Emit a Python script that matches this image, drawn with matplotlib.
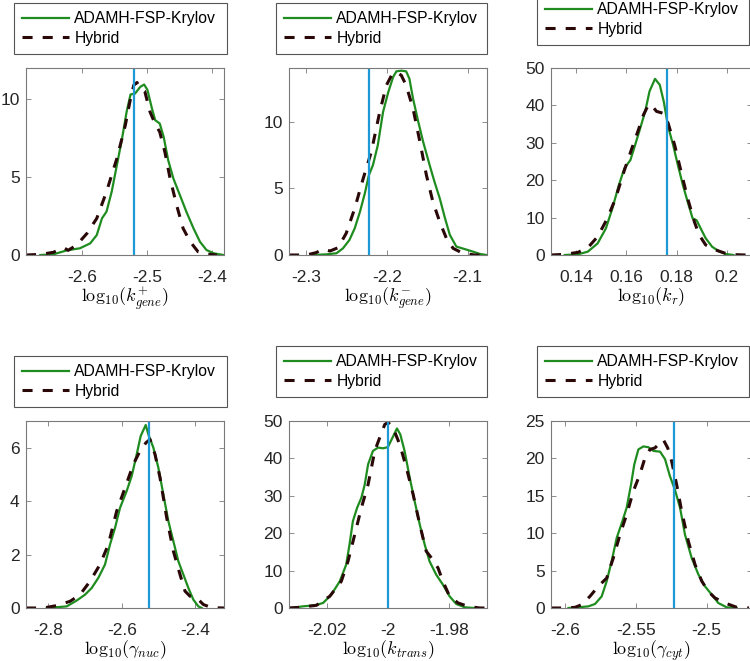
import matplotlib
matplotlib.use("Agg")
import matplotlib.pyplot as plt
from matplotlib.ticker import FormatStrFormatter

plt.rcParams['font.family'] = ['Liberation Sans', 'DejaVu Sans']
plt.rcParams['mathtext.fontset'] = 'cm'
plt.rcParams['axes.unicode_minus'] = False

GREEN = '#1f8c1f'
DARK = '#2a0808'
BLUE = '#1d9ad6'

# ---- k_gene^+ ----
kon_x_fsp = [-2.665, -2.645, -2.624, -2.604, -2.588, -2.578, -2.570, -2.563, -2.555, -2.547,
             -2.539, -2.532, -2.526, -2.519, -2.511, -2.505, -2.500, -2.493, -2.488, -2.481,
             -2.475, -2.468, -2.460, -2.450, -2.440, -2.429, -2.419, -2.409, -2.398, -2.383]
kon_y_fsp = [0, 0.04, 0.3, 0.43, 0.75, 1.28, 2.35, 2.78, 4.06, 5.77,
             7.48, 9.19, 10.3, 10.36, 10.79, 10.94, 10.6, 9.4, 8.65, 8.44,
             7.59, 6.09, 4.91, 3.85, 2.78, 1.71, 0.85, 0.32, 0.11, 0]
kon_x_hyb = [-2.687, -2.665, -2.645, -2.629, -2.622, -2.609, -2.593, -2.578, -2.563, -2.547,
             -2.534, -2.527, -2.521, -2.516, -2.511, -2.504, -2.496, -2.488, -2.481, -2.473,
             -2.465, -2.455, -2.445, -2.434, -2.422, -2.409, -2.393]
kon_y_hyb = [0, 0.04, 0.17, 0.47, 0.3, 0.64, 1.39, 2.35, 4.06, 6.2,
             8.33, 9.83, 10.9, 11.07, 10.7, 10.5, 9.19, 8.4, 7.9, 6.6,
             4.9, 3.2, 1.71, 0.85, 0.21, 0.06, 0]

# ---- k_gene^- ----
koff_x_fsp = [-2.291, -2.2745, -2.262, -2.254, -2.246, -2.2395, -2.233, -2.227, -2.222, -2.217,
              -2.211, -2.2045, -2.198, -2.192, -2.188, -2.182, -2.176, -2.172, -2.1675, -2.161,
              -2.155, -2.147, -2.141, -2.1345, -2.128, -2.122, -2.114, -2.104, -2.0934, -2.085, -2.077]
koff_y_fsp = [0, 0.05, 0.13, 0.5, 1.13, 2.0, 3.25, 4.63, 6.0, 6.75,
              8.25, 10.75, 12.25, 13.38, 13.8, 13.85, 13.8, 13.25, 11.75, 10.0,
              8.5, 6.75, 5.5, 4.25, 2.75, 1.5, 0.63, 0.45, 0.25, 0.08, 0]
koff_x_hyb = [-2.3206, -2.299, -2.287, -2.2786, -2.270, -2.260, -2.250, -2.2395, -2.229, -2.219,
              -2.2086, -2.2004, -2.194, -2.188, -2.182, -2.176, -2.1675, -2.159, -2.151, -2.143,
              -2.1346, -2.1263, -2.118, -2.106, -2.0914, -2.077]
koff_y_hyb = [0, 0, 0.18, 0.45, 0.3, 0.55, 1.63, 3.5, 5.75, 7.75,
              10.75, 12.75, 13.5, 13.75, 13.5, 12.75, 11.0, 8.5, 6.0, 4.0,
              2.5, 1.25, 0.5, 0.13, 0, 0]

# ---- k_r ----
kr_x_fsp = [0.1354, 0.1407, 0.1446, 0.1485, 0.1518, 0.1544, 0.1570, 0.1592, 0.1616, 0.1635,
            0.1655, 0.1675, 0.1692, 0.1714, 0.1733, 0.1749, 0.1766, 0.1786, 0.1805, 0.1825,
            0.1844, 0.1864, 0.1880, 0.1897, 0.1916, 0.1942, 0.1969, 0.1995, 0.2027]
kr_y_fsp = [0, 0.18, 0.9, 3.1, 7.1, 12.5, 18.75, 23.2, 25.4, 29.5,
            33.9, 38.4, 43.75, 47.1, 45.5, 41.0, 34.4, 29.5, 24.1, 18.75,
            14.3, 9.8, 9.3, 7.0, 4.5, 2.2, 1.0, 0.27, 0]
kr_x_hyb = [0.1299, 0.1354, 0.1407, 0.1446, 0.1485, 0.1524, 0.1557, 0.1590, 0.1622, 0.1648,
            0.1668, 0.1688, 0.1701, 0.1720, 0.1746, 0.1766, 0.1792, 0.1818, 0.1844, 0.1871,
            0.1890, 0.1916, 0.1956, 0.1995, 0.2034, 0.2076, 0.21]
kr_y_hyb = [0, 0.18, 0.71, 1.96, 4.9, 9.8, 15.2, 22.3, 28.6, 33.5,
            37.5, 40.2, 40.0, 38.4, 37.9, 35.3, 29.5, 22.3, 15.2, 8.9,
            5.4, 2.7, 1.34, 0.45, 0.09, 0, 0]

# ---- gamma_nuc ----
gnuc_x_fsp = [-2.8045, -2.7773, -2.750, -2.7227, -2.700, -2.6818, -2.6636, -2.6455, -2.6318, -2.6182,
              -2.6045, -2.5864, -2.5727, -2.5591, -2.5482, -2.5345, -2.5273, -2.5136, -2.500, -2.4864,
              -2.4727, -2.4591, -2.4455, -2.4318, -2.4182, -2.4045, -2.3909, -2.3818]
gnuc_y_fsp = [0, 0.03, 0.06, 0.28, 0.5, 0.75, 1.13, 1.63, 2.38, 3.0,
              3.75, 4.38, 4.94, 5.75, 6.44, 6.85, 6.5, 6.0, 5.25, 4.25,
              3.25, 2.5, 1.75, 1.25, 0.75, 0.31, 0.06, 0]
gnuc_x_hyb = [-2.861, -2.8136, -2.7773, -2.7409, -2.7136, -2.6864, -2.6591, -2.6364, -2.6136, -2.5909,
              -2.5682, -2.55, -2.5336, -2.5227, -2.5091, -2.4955, -2.4773, -2.4591, -2.4409, -2.4273,
              -2.4136, -2.3955, -2.3773, -2.3545, -2.3209]
gnuc_y_hyb = [0, 0, 0.09, 0.25, 0.5, 1.0, 1.63, 2.38, 3.63, 4.5,
              5.38, 5.88, 6.19, 6.31, 5.75, 4.88, 3.38, 2.13, 1.25, 0.63,
              0.44, 0.38, 0.13, 0.01, 0]

# ---- k_trans ----
ktr_x_fsp = [-2.0326, -2.0302, -2.028, -2.0242, -2.0214, -2.0187, -2.0159, -2.0138, -2.0127, -2.0116,
             -2.0102, -2.0088, -2.0077, -2.0066, -2.005, -2.0033, -2.0017, -2.0001, -1.9986, -1.9971,
             -1.996, -1.9946, -1.9929, -1.9913, -1.9896, -1.988, -1.9864, -1.9842, -1.982, -1.9798,
             -1.9776, -1.9748, -1.9716]
ktr_y_fsp = [0, 0.18, 0.45, 0.71, 1.34, 3.57, 7.14, 11.6, 16.96, 23.2,
             26.8, 29.5, 33.0, 38.4, 42.0, 42.9, 42.7, 43.0, 45.5, 48.0,
             46.4, 42.0, 34.8, 28.6, 22.3, 17.0, 12.5, 8.9, 6.25, 3.13,
             1.07, 0.18, 0]
ktr_x_hyb = [-2.0326, -2.0291, -2.0236, -2.0192, -2.0154, -2.0132, -2.011, -2.0088, -2.0066, -2.0044,
             -2.0028, -2.0011, -2.0, -1.9984, -1.9962, -1.994, -1.9918, -1.9896, -1.9875, -1.9853,
             -1.9836, -1.982, -1.9798, -1.977, -1.9738, -1.9699, -1.9675]
ktr_y_hyb = [0, 0.18, 0.71, 3.13, 7.14, 12.5, 19.6, 26.8, 33.0, 42.0,
             45.5, 49.1, 49.6, 48.2, 43.75, 37.5, 30.4, 22.3, 15.2, 12.9,
             10.7, 7.14, 3.13, 1.34, 0.45, 0, 0]

# ---- gamma_cyt ----
gcyt_x_fsp = [-2.5976, -2.5906, -2.5835, -2.5788, -2.5741, -2.5706, -2.5671, -2.5635, -2.5595, -2.5565,
              -2.5534, -2.5511, -2.5482, -2.5447, -2.5412, -2.5376, -2.5329, -2.5294, -2.5259, -2.5224,
              -2.5188, -2.5153, -2.5106, -2.5059, -2.5012, -2.4965, -2.4918, -2.4859, -2.4788]
gcyt_y_fsp = [0, 0.09, 0.22, 0.54, 1.56, 3.57, 6.25, 9.38, 11.6, 13.4,
              16.5, 19.2, 21.2, 21.6, 21.5, 21.0, 20.9, 19.9, 17.6, 15.8,
              13.4, 9.8, 6.7, 4.5, 2.9, 1.8, 0.67, 0.09, 0]
gcyt_x_hyb = [-2.6099, -2.6, -2.5929, -2.5882, -2.5824, -2.5765, -2.5706, -2.5659, -2.5612, -2.5565,
              -2.5518, -2.5471, -2.5435, -2.54, -2.5365, -2.5329, -2.5306, -2.5275, -2.5247, -2.5212,
              -2.5176, -2.5129, -2.5082, -2.5035, -2.4988, -2.4941, -2.4871, -2.4788, -2.4701]
gcyt_y_hyb = [0, 0, 0.09, 0.45, 1.56, 2.9, 4.0, 6.7, 9.8, 12.5,
              15.6, 17.9, 20.1, 21.2, 21.4, 22.1, 22.5, 21.4, 19.6, 16.5,
              12.9, 8.9, 5.8, 3.6, 2.2, 1.34, 0.67, 0.09, 0]

true_vals = [-2.521, -2.222, 0.176, -2.5245, -2.0, -2.5228]
xlabels = [r'$\mathrm{log}_{10}(k^{+}_{gene})$', r'$\mathrm{log}_{10}(k^{-}_{gene})$',
           r'$\mathrm{log}_{10}(k_r)$', r'$\mathrm{log}_{10}(\gamma_{nuc})$',
           r'$\mathrm{log}_{10}(k_{trans})$', r'$\mathrm{log}_{10}(\gamma_{cyt})$']
xlims = [(-2.687, -2.382), (-2.3206, -2.0762), (0.1299, 0.2101),
         (-2.861, -2.321), (-2.0326, -1.9675), (-2.6099, -2.468)]
ylims = [(0, 12), (0, 14.05), (0, 50), (0, 7), (0, 50), (0, 25)]
xticks = [[-2.6, -2.5, -2.4], [-2.3, -2.2, -2.1], [0.14, 0.16, 0.18, 0.2],
          [-2.8, -2.6, -2.4], [-2.02, -2.0, -1.98], [-2.6, -2.55, -2.5]]
yticks = [[0, 5, 10], [0, 5, 10], [0, 10, 20, 30, 40, 50],
          [0, 2, 4, 6], [0, 10, 20, 30, 40, 50], [0, 5, 10, 15, 20, 25]]

fsp_x = [kon_x_fsp, koff_x_fsp, kr_x_fsp, gnuc_x_fsp, ktr_x_fsp, gcyt_x_fsp]
fsp_y = [kon_y_fsp, koff_y_fsp, kr_y_fsp, gnuc_y_fsp, ktr_y_fsp, gcyt_y_fsp]
hyb_x = [kon_x_hyb, koff_x_hyb, kr_x_hyb, gnuc_x_hyb, ktr_x_hyb, gcyt_x_hyb]
hyb_y = [kon_y_hyb, koff_y_hyb, kr_y_hyb, gnuc_y_hyb, ktr_y_hyb, gcyt_y_hyb]

W, H = 750, 661
fig = plt.figure(figsize=(W / 100, H / 100), dpi=100)

# pixel boxes: left, top, width, height
ax_boxes = [(26, 68, 198, 187), (289, 68, 198, 187), (551, 68, 201, 187),
            (26, 421, 198, 187), (289, 421, 198, 187), (551, 421, 201, 187)]
leg_boxes = [(14, 10, 213), (276, 10, 211), (537, 1, 212),
             (14, 363, 213), (276, 353, 211), (537, 353, 212)]

for i in range(6):
    l, t, w, h = ax_boxes[i]
    ax = fig.add_axes([l / W, 1 - (t + h) / H, w / W, h / H])
    ax.plot(fsp_x[i], fsp_y[i], color=GREEN, lw=1.6, label='ADAMH-FSP-Krylov')
    ax.plot(hyb_x[i], hyb_y[i], color=DARK, lw=2.2, linestyle=(0, (3.3, 3.3)), label='Hybrid')
    ax.axvline(true_vals[i], color=BLUE, lw=1.6)
    ax.set_xlim(xlims[i])
    ax.set_ylim(ylims[i])
    ax.set_xticks(xticks[i])
    ax.set_yticks(yticks[i])
    ax.xaxis.set_major_formatter(FormatStrFormatter('%g'))
    ax.yaxis.set_major_formatter(FormatStrFormatter('%g'))
    ax.tick_params(direction='in', top=True, right=True, length=3.5, width=0.6,
                   labelsize=12.5, colors='#7a7a7a', labelcolor='#262626')
    ax.tick_params(axis='x', pad=11)
    ax.tick_params(axis='y', pad=4.5)
    for sp in ax.spines.values():
        sp.set_color('#7a7a7a')
        sp.set_linewidth(0.8)
    ax.set_xlabel(xlabels[i], fontsize=13, labelpad=0)

    ll, lt, lw_ = leg_boxes[i]
    leg = ax.legend(loc='upper left', bbox_to_anchor=(ll / W, 1 - lt / H, lw_ / W, 0.01),
                    bbox_transform=fig.transFigure, mode='expand', borderaxespad=0,
                    fontsize=11.3, handlelength=3.0, handletextpad=0.35, labelspacing=0.3,
                    borderpad=0.5, fancybox=False, framealpha=1)
    leg.get_frame().set_edgecolor('#555555')
    leg.get_frame().set_linewidth(0.8)

fig.savefig('out.png', dpi=100)
